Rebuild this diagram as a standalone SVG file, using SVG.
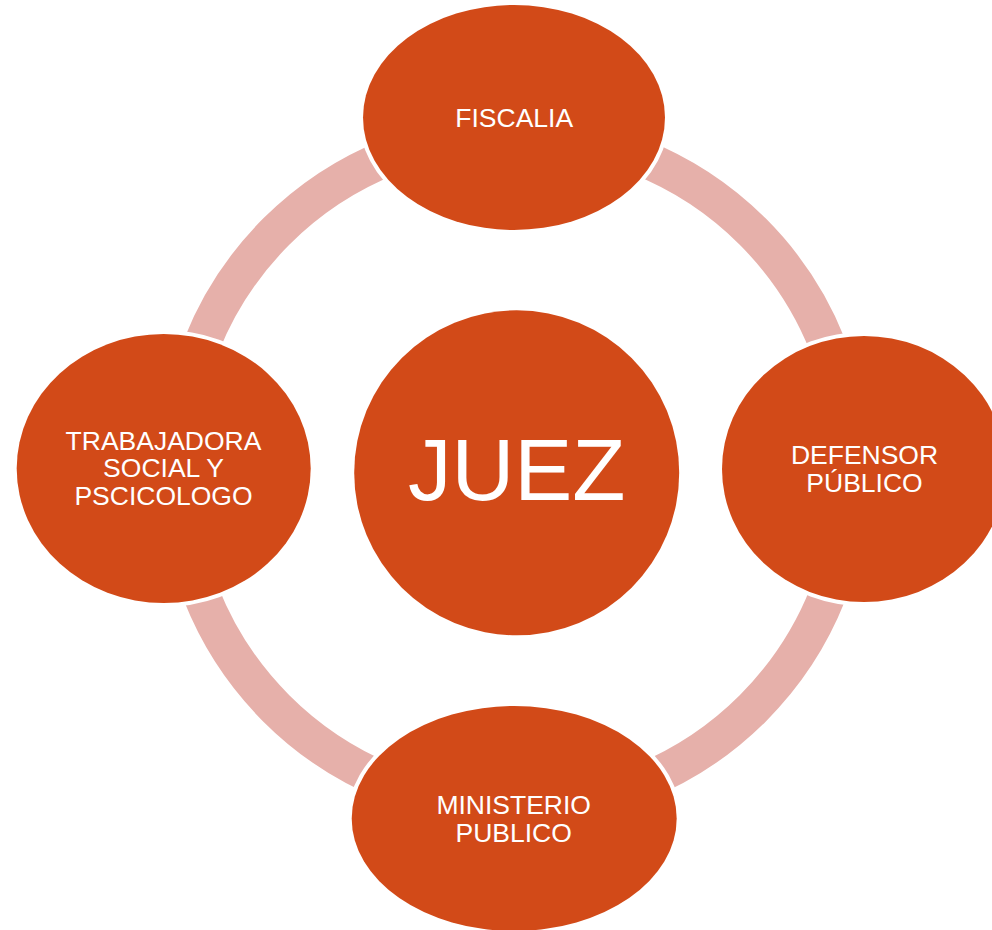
<svg xmlns="http://www.w3.org/2000/svg" width="992" height="930" viewBox="0 0 992 930">
<style>
.node{fill:#D24A18;stroke:#FFFFFF;stroke-width:8;paint-order:stroke}
.lbl{fill:#FFFFFF;font-family:"Liberation Sans",Arial,sans-serif;font-size:26.5px;text-anchor:middle}
.ring{fill:none;stroke:#E6B0AA;stroke-width:37}
</style>
<rect width="992" height="930" fill="#FFFFFF"/>
<g id="connectors">
<circle class="ring" cx="514.5" cy="470" r="337"/>
</g>
<g id="juez">
<circle class="node" cx="516.7" cy="472.8" r="162.5"/>
<text class="lbl" x="516.7" y="500" style="font-size:87px">JUEZ</text>
</g>
<g id="fiscalia">
<ellipse class="node" cx="514" cy="117.5" rx="151" ry="112.5"/>
<text class="lbl" x="514.2" y="126.7">FISCALIA</text>
</g>
<g id="defensor">
<ellipse class="node" cx="864" cy="469" rx="142" ry="133"/>
<text class="lbl" x="864.5" y="464.3">DEFENSOR</text>
<text class="lbl" x="864.5" y="491.7">PÚBLICO</text>
</g>
<g id="ministerio">
<ellipse class="node" cx="514.2" cy="818.5" rx="162.5" ry="112.5"/>
<text class="lbl" x="513.7" y="814">MINISTERIO</text>
<text class="lbl" x="513.7" y="841.7">PUBLICO</text>
</g>
<g id="trabajadora">
<ellipse class="node" cx="163.7" cy="468.5" rx="147" ry="134.5"/>
<text class="lbl" x="163.5" y="450">TRABAJADORA</text>
<text class="lbl" x="163.5" y="477.3">SOCIAL Y</text>
<text class="lbl" x="163.5" y="505">PSCICOLOGO</text>
</g>
</svg>
